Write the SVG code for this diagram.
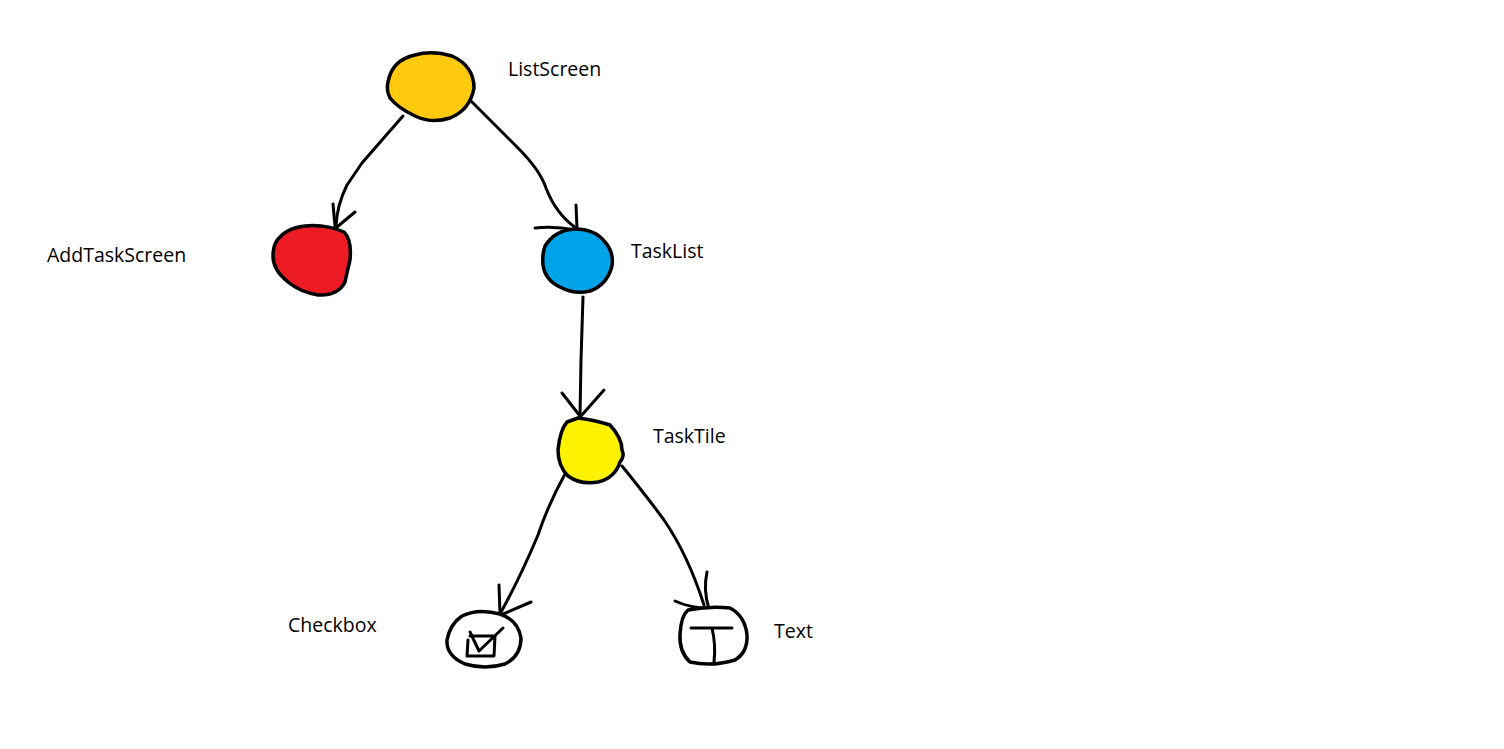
<svg xmlns="http://www.w3.org/2000/svg" width="1504" height="749" viewBox="0 0 1504 749">
<style>
.n{stroke:#000;stroke-width:3.5;stroke-linejoin:round;stroke-linecap:round}
.c{fill:none;stroke:#000;stroke-width:3;stroke-linejoin:round;stroke-linecap:round}
.t{font-family:"Open Sans","Liberation Sans",sans-serif;font-size:19.5px;fill:#000}
</style>
<rect width="1504" height="749" fill="#fff"/>
<g id="connectors">
<path class="c" d="M403,116 L382,140 L362,163 L347,185 Q337,205 336,226"/>
<path class="c" d="M333,204 L335,226 M355,212 L337,227"/>
<path class="c" d="M470,100 Q495,125 518,148 Q540,170 546,188 Q556,214 576,228"/>
<path class="c" d="M576,205 L577,228 M535,228 Q555,226 575,230"/>
<path class="c" d="M583,297 L581,360 L580,416"/>
<path class="c" d="M562,393 L580,416 M604,390 L581,416"/>
<path class="c" d="M565,474 Q548,505 538,535 Q520,578 500,614"/>
<path class="c" d="M499,585 L500,614 M531,602 L501,615"/>
<path class="c" d="M622,466 Q648,498 664,520 Q688,555 704,605"/>
<path class="c" d="M707,572 Q703,590 709,609 M675,601 Q690,608 708,608"/>
</g>
<g id="ListScreen">
<path class="n" fill="#FFC90E" d="M388,82 Q392,60 415,55 Q432,50 452,56 Q474,66 474,88 Q470,110 450,118 Q432,124 415,116 Q398,108 390,98 Q386,90 388,82 Z"/>
<text class="t" x="508" y="76">ListScreen</text>
</g>
<g id="AddTaskScreen">
<path class="n" fill="#ED1C24" d="M276,242 Q285,228 305,226 Q325,224 344,232 Q352,240 350,260 Q347,272 345,282 Q338,296 318,295 Q300,292 288,282 Q273,270 273,256 Q273,248 276,242 Z"/>
<text class="t" x="47" y="262">AddTaskScreen</text>
</g>
<g id="TaskList">
<path class="n" fill="#00A2E8" d="M545,246 Q555,230 575,229 Q595,229 605,242 Q614,252 612,266 Q607,285 590,291 Q575,295 560,287 Q545,280 543,265 Q542,254 545,246 Z"/>
<text class="t" x="631" y="258">TaskList</text>
</g>
<g id="TaskTile">
<path class="n" fill="#FFF200" d="M567,422 L578,418 Q595,420 610,425 Q622,438 622,450 Q625,456 620,462 Q615,478 598,482 Q580,485 568,476 Q558,466 558,450 Q560,430 567,422 Z"/>
<text class="t" x="653" y="443">TaskTile</text>
</g>
<g id="Checkbox">
<path class="n" fill="#fff" d="M462,616 Q478,608 500,614 Q518,620 521,638 Q521,656 505,664 Q485,670 465,664 Q446,656 447,640 Q450,624 462,616 Z"/>
<path class="c" d="M468,640 L467,656 L494,656 L495,636 L470,636 M470,632 L479,651 L503,628"/>
<text class="t" x="288" y="632">Checkbox</text>
</g>
<g id="Text">
<path class="n" fill="#fff" d="M688,610 Q710,606 730,608 Q745,616 747,635 Q748,652 735,660 Q712,667 690,662 Q679,652 680,634 Q681,616 688,610 Z"/>
<path class="c" d="M691,628 L732,628 M712,628 Q716,645 714,662"/>
<text class="t" x="774" y="638">Text</text>
</g>
</svg>
